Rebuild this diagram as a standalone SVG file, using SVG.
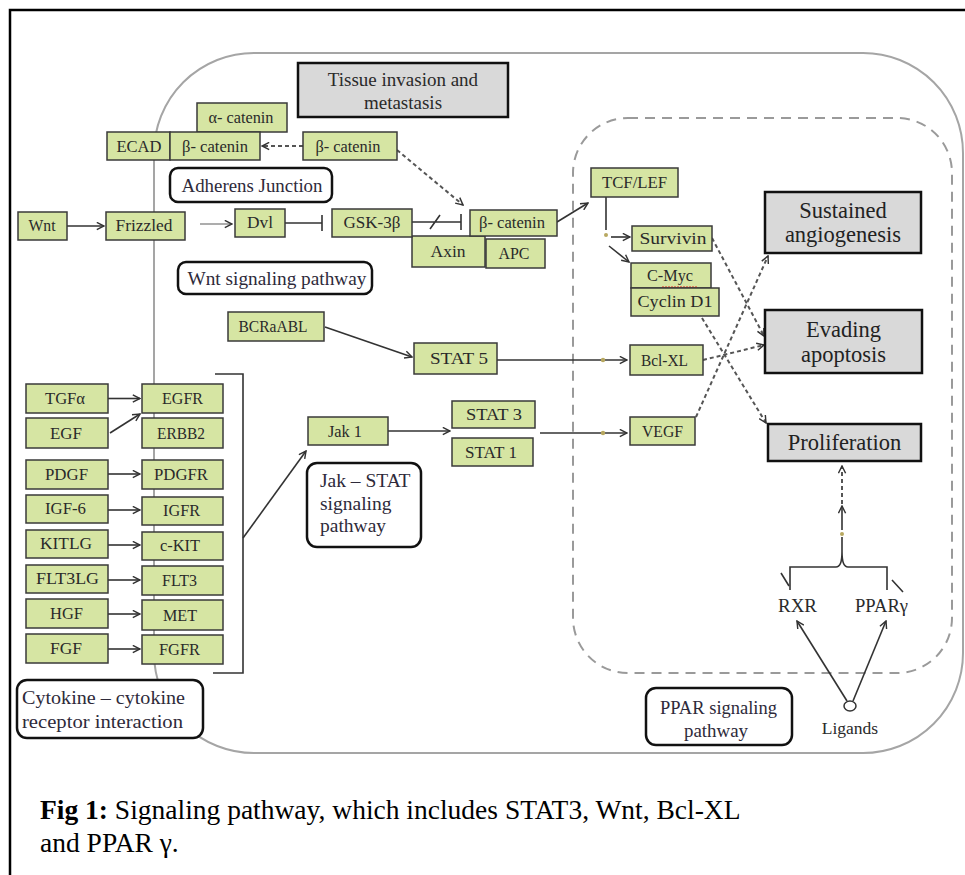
<svg xmlns="http://www.w3.org/2000/svg" width="965" height="875" viewBox="0 0 965 875">
<style>
.g{fill:#d6e5a3;stroke:#3a3a3a;stroke-width:1.5}
.o{fill:#d9d9d9;stroke:#111;stroke-width:2.5}
.l{fill:#fff;stroke:#111;stroke-width:2.5}
.t{font-family:"Liberation Serif",serif;font-size:16px;fill:#2a2a2a;text-anchor:middle}
.tb{font-family:"Liberation Serif",serif;font-size:19.5px;fill:#2e2a3a}
.to{font-family:"Liberation Serif",serif;font-size:22.5px;fill:#222;text-anchor:middle}
.s{stroke:#333;stroke-width:1.6;fill:none}
.d{stroke:#555;stroke-width:2;stroke-dasharray:4,3;fill:none}
.cap{font-family:"Liberation Serif",serif;font-size:27.5px;fill:#000}
</style>
<defs>
<marker id="a" viewBox="0 0 10 10" refX="9" refY="5" markerWidth="9" markerHeight="9" markerUnits="userSpaceOnUse" orient="auto">
<path d="M1,1 L9,5 L1,9" fill="none" stroke="#333" stroke-width="1.6"/>
</marker>
</defs>
<rect width="965" height="875" fill="#fff"/>
<path d="M10,875 L10,10 L965,10" fill="none" stroke="#000" stroke-width="2.5"/>
<rect x="154" y="53" width="809" height="700" rx="100" ry="100" fill="none" stroke="#a5a5a5" stroke-width="2"/>
<rect x="573" y="118" width="379" height="555" rx="55" ry="55" fill="none" stroke="#9a9a9a" stroke-width="2" stroke-dasharray="10,7"/>

<g id="connectors">
<path class="s" d="M67,226 L104,226" marker-end="url(#a)"/>
<path d="M200,224 L232,224" stroke="#777" stroke-width="1.2" fill="none" marker-end="url(#a)"/>
<path class="s" d="M285,223 L322,223 M322,215 L322,231"/>
<path class="s" d="M412,222 L461,222 M461,214 L461,230 M430,229 L440,215"/>
<path class="d" d="M303,146 L262,146" marker-end="url(#a)"/>
<path class="d" d="M397,150 L463,205" marker-end="url(#a)"/>
<path class="s" d="M557,222 L588,203" marker-end="url(#a)"/>
<path class="s" d="M606,197 L606,230"/>
<circle cx="606" cy="235" r="2" fill="#b8a860"/>
<path class="s" d="M611,237 L630,237" marker-end="url(#a)"/>
<path class="s" d="M609,246 L629,262" marker-end="url(#a)"/>
<path class="s" d="M325,327 L412,357" marker-end="url(#a)"/>
<path class="s" d="M497,360 L627,360" marker-end="url(#a)"/>
<circle cx="603" cy="360" r="2.2" fill="#b8a860"/>
<path class="s" d="M388,431 L450,431" marker-end="url(#a)"/>
<path class="s" d="M540,433 L627,433" marker-end="url(#a)"/>
<circle cx="603" cy="433" r="2.2" fill="#b8a860"/>
<path class="d" d="M712,238 L764,336" marker-end="url(#a)"/>
<path class="d" d="M702,318 L766,423" marker-end="url(#a)"/>
<path class="d" d="M703,360 L764,345" marker-end="url(#a)"/>
<path class="d" d="M696,417 L768,256" marker-end="url(#a)"/>
<path class="s" d="M108,398.5 L140,398.5" marker-end="url(#a)"/>
<path class="s" d="M110,433 L140,414" marker-end="url(#a)"/>
<path class="s" d="M108,474 L140,474" marker-end="url(#a)"/>
<path class="s" d="M108,510 L140,510" marker-end="url(#a)"/>
<path class="s" d="M108,545 L140,545" marker-end="url(#a)"/>
<path class="s" d="M108,580 L140,580" marker-end="url(#a)"/>
<path class="s" d="M108,614 L140,614" marker-end="url(#a)"/>
<path class="s" d="M108,649 L140,649" marker-end="url(#a)"/>
<path class="s" d="M215,374 L243,374 L243,673 L213,673"/>
<path class="s" d="M243,538 L306,451" marker-end="url(#a)"/>
<path class="s" d="M842,530 L842,506" marker-end="url(#a)"/>
<path class="d" d="M842,504 L842,466" marker-end="url(#a)"/>
<path class="s" d="M790,590 L790,567 L836,567 Q842,567 842,552 Q842,567 848,567 L887,567 L887,590"/>
<path class="s" d="M842,552 L842,537"/>
<circle cx="842" cy="534" r="2" fill="#b8a860"/>
<path class="s" d="M781,573 L789,586 M892,580 L903,592"/>
<path class="s" d="M847,701 L797,621" marker-end="url(#a)"/>
<path class="s" d="M853,701 L886,621" marker-end="url(#a)"/>
</g>

<g id="tissue"><rect class="o" x="298" y="63" width="210" height="54"/><text class="t" style="font-size:19px" x="403" y="86">Tissue invasion and</text><text class="t" style="font-size:19px" x="403" y="109">metastasis</text></g>
<g id="acatenin"><rect class="g" x="197" y="103" width="90" height="29"/><text class="t" x="241" y="123" textLength="65" lengthAdjust="spacingAndGlyphs">α- catenin</text></g>
<g id="ecad"><rect class="g" x="107" y="132" width="63" height="28"/><text class="t" x="139" y="152" textLength="45" lengthAdjust="spacingAndGlyphs">ECAD</text></g>
<g id="bcatenin1"><rect class="g" x="170" y="132" width="90" height="28"/><text class="t" x="215" y="152" textLength="66" lengthAdjust="spacingAndGlyphs">β- catenin</text></g>
<g id="bcatenin2"><rect class="g" x="303" y="132" width="94" height="28"/><text class="t" x="348" y="152" textLength="65" lengthAdjust="spacingAndGlyphs">β- catenin</text></g>
<g id="adherens"><rect class="l" x="170" y="168" width="162" height="34" rx="8"/><text class="tb" x="252" y="192" text-anchor="middle" textLength="141" lengthAdjust="spacingAndGlyphs">Adherens Junction</text></g>
<g id="wnt"><rect class="g" x="18" y="212" width="49" height="28"/><text class="t" x="42" y="231" textLength="27" lengthAdjust="spacingAndGlyphs">Wnt</text></g>
<g id="frizzled"><rect class="g" x="106" y="212" width="79" height="28"/><text class="t" x="144" y="231" textLength="57" lengthAdjust="spacingAndGlyphs">Frizzled</text></g>
<g id="dvl"><rect class="g" x="235" y="209" width="50" height="28"/><text class="t" x="260" y="228" textLength="26" lengthAdjust="spacingAndGlyphs">Dvl</text></g>
<g id="axin"><rect class="g" x="412" y="236" width="73" height="31"/><text class="t" x="448" y="257" textLength="35" lengthAdjust="spacingAndGlyphs">Axin</text></g>
<g id="gsk"><rect class="g" x="332" y="209" width="80" height="28"/><text class="t" x="372" y="228" textLength="57" lengthAdjust="spacingAndGlyphs">GSK-3β</text></g>
<g id="apc"><rect class="g" x="486" y="239" width="59" height="29"/><text class="t" x="514" y="259" textLength="31" lengthAdjust="spacingAndGlyphs">APC</text></g>
<g id="bcatenin3"><rect class="g" x="470" y="210" width="87" height="26"/><text class="t" x="512" y="228" textLength="66" lengthAdjust="spacingAndGlyphs">β- catenin</text></g>
<g id="wntlabel"><rect class="l" x="178" y="262" width="194" height="32" rx="8"/><text class="tb" x="277" y="285" text-anchor="middle" textLength="179" lengthAdjust="spacingAndGlyphs">Wnt signaling pathway</text></g>
<g id="tcflef"><rect class="g" x="591" y="168" width="87" height="29"/><text class="t" x="634.5" y="188" textLength="65" lengthAdjust="spacingAndGlyphs">TCF/LEF</text></g>
<g id="survivin"><rect class="g" x="632" y="226" width="80" height="25"/><text class="t" x="673" y="244" textLength="67" lengthAdjust="spacingAndGlyphs">Survivin</text></g>
<g id="cmyc"><rect class="g" x="631" y="263" width="80" height="25"/><text class="t" x="670" y="281" textLength="46" lengthAdjust="spacingAndGlyphs">C-Myc</text><path d="M662,287 L697,287" stroke="#e02020" stroke-width="1" stroke-dasharray="2,1"/></g>
<g id="cyclind1"><rect class="g" x="631" y="288" width="88" height="28"/><text class="t" x="675" y="307" textLength="75" lengthAdjust="spacingAndGlyphs">Cyclin D1</text></g>
<g id="bclxl"><rect class="g" x="630" y="345" width="73" height="30"/><text class="t" x="664.5" y="366" textLength="47" lengthAdjust="spacingAndGlyphs">Bcl-XL</text></g>
<g id="vegf"><rect class="g" x="630" y="417" width="65" height="28"/><text class="t" x="662.5" y="437" textLength="41" lengthAdjust="spacingAndGlyphs">VEGF</text></g>
<g id="bcrabl"><rect class="g" x="228" y="312" width="96" height="29"/><text class="t" x="273" y="332" textLength="69" lengthAdjust="spacingAndGlyphs">BCRaABL</text></g>
<g id="stat5"><rect class="g" x="414" y="343" width="83" height="31"/><text class="t" x="459" y="364" textLength="58" lengthAdjust="spacingAndGlyphs">STAT 5</text></g>
<g id="jak1"><rect class="g" x="308" y="417" width="80" height="28"/><text class="t" x="345" y="437" textLength="34" lengthAdjust="spacingAndGlyphs">Jak 1</text></g>
<g id="stat3"><rect class="g" x="452" y="401" width="83" height="27"/><text class="t" x="494" y="420" textLength="56" lengthAdjust="spacingAndGlyphs">STAT 3</text></g>
<g id="stat1"><rect class="g" x="452" y="438" width="81" height="28"/><text class="t" x="491" y="458" textLength="52" lengthAdjust="spacingAndGlyphs">STAT 1</text></g>
<g id="sustained"><rect class="o" x="765" y="192" width="156" height="61"/><text class="to" x="843" y="218">Sustained</text><text class="to" x="843" y="242">angiogenesis</text></g>
<g id="evading"><rect class="o" x="765" y="310" width="157" height="63"/><text class="to" x="843.5" y="337">Evading</text><text class="to" x="843.5" y="362">apoptosis</text></g>
<g id="proliferation"><rect class="o" x="768" y="424" width="153" height="37"/><text class="to" x="844.5" y="450">Proliferation</text></g>
<g id="jakstatlabel"><rect class="l" x="307" y="463" width="114" height="84" rx="10"/><text class="tb" x="320" y="487">Jak – STAT</text><text class="tb" x="320" y="510">signaling</text><text class="tb" x="320" y="532">pathway</text></g>
<g id="tgfa"><rect class="g" x="26" y="384" width="82" height="29"/><text class="t" x="65" y="404" textLength="40" lengthAdjust="spacingAndGlyphs">TGFα</text></g>
<g id="egfr"><rect class="g" x="142" y="384" width="81" height="29"/><text class="t" x="182.5" y="404" textLength="41" lengthAdjust="spacingAndGlyphs">EGFR</text></g>
<g id="egf"><rect class="g" x="26" y="418" width="82" height="30"/><text class="t" x="66" y="439" textLength="32" lengthAdjust="spacingAndGlyphs">EGF</text></g>
<g id="erbb2"><rect class="g" x="142" y="418" width="81" height="30"/><text class="t" x="181" y="439" textLength="48" lengthAdjust="spacingAndGlyphs">ERBB2</text></g>
<g id="pdgf"><rect class="g" x="26" y="460" width="82" height="29"/><text class="t" x="66.5" y="480" textLength="43" lengthAdjust="spacingAndGlyphs">PDGF</text></g>
<g id="pdgfr"><rect class="g" x="142" y="460" width="81" height="29"/><text class="t" x="181" y="480" textLength="54" lengthAdjust="spacingAndGlyphs">PDGFR</text></g>
<g id="igf6"><rect class="g" x="26" y="495" width="82" height="28"/><text class="t" x="65.5" y="514" textLength="41" lengthAdjust="spacingAndGlyphs">IGF-6</text></g>
<g id="igfr"><rect class="g" x="142" y="497" width="81" height="28"/><text class="t" x="181.5" y="516" textLength="37" lengthAdjust="spacingAndGlyphs">IGFR</text></g>
<g id="kitlg"><rect class="g" x="26" y="530" width="82" height="28"/><text class="t" x="66" y="549" textLength="52" lengthAdjust="spacingAndGlyphs">KITLG</text></g>
<g id="ckit"><rect class="g" x="142" y="532" width="81" height="28"/><text class="t" x="180" y="551" textLength="40" lengthAdjust="spacingAndGlyphs">c-KIT</text></g>
<g id="flt3lg"><rect class="g" x="26" y="565" width="82" height="28"/><text class="t" x="67.5" y="584" textLength="63" lengthAdjust="spacingAndGlyphs">FLT3LG</text></g>
<g id="flt3"><rect class="g" x="142" y="566" width="81" height="29"/><text class="t" x="179.5" y="586" textLength="35" lengthAdjust="spacingAndGlyphs">FLT3</text></g>
<g id="hgf"><rect class="g" x="26" y="599" width="82" height="29"/><text class="t" x="66.5" y="619" textLength="33" lengthAdjust="spacingAndGlyphs">HGF</text></g>
<g id="met"><rect class="g" x="142" y="600" width="81" height="30"/><text class="t" x="180" y="621" textLength="34" lengthAdjust="spacingAndGlyphs">MET</text></g>
<g id="fgf"><rect class="g" x="26" y="634" width="82" height="29"/><text class="t" x="66" y="654" textLength="32" lengthAdjust="spacingAndGlyphs">FGF</text></g>
<g id="fgfr"><rect class="g" x="142" y="635" width="81" height="29"/><text class="t" x="179.5" y="655" textLength="41" lengthAdjust="spacingAndGlyphs">FGFR</text></g>
<g id="cytokinelabel"><rect class="l" x="17" y="680" width="186" height="58" rx="10"/><text class="tb" x="103.5" y="704" text-anchor="middle" textLength="163" lengthAdjust="spacingAndGlyphs">Cytokine – cytokine</text><text class="tb" x="102.5" y="728" text-anchor="middle" textLength="161" lengthAdjust="spacingAndGlyphs">receptor interaction</text></g>
<g id="pparlabel"><rect class="l" x="646" y="688" width="146" height="57" rx="10"/><text class="tb" style="font-size:18px" x="718.5" y="714" text-anchor="middle" textLength="117" lengthAdjust="spacingAndGlyphs">PPAR signaling</text><text class="tb" style="font-size:18px" x="716" y="737" text-anchor="middle" textLength="64" lengthAdjust="spacingAndGlyphs">pathway</text></g>
<g id="rxr"><text class="t" style="font-size:18px" x="797.5" y="612" textLength="39" lengthAdjust="spacingAndGlyphs">RXR</text></g>
<g id="ppar"><text class="t" style="font-size:18px" x="881.5" y="612" textLength="53" lengthAdjust="spacingAndGlyphs">PPARγ</text></g>
<g id="ligands"><ellipse cx="850" cy="706" rx="6" ry="5" fill="#fff" stroke="#333" stroke-width="1.5"/><text class="t" style="font-size:17.5px" x="850" y="734">Ligands</text></g>
<g id="caption"><text class="cap" x="40" y="819"><tspan font-weight="bold">Fig 1:</tspan> Signaling pathway, which includes STAT3, Wnt, Bcl-XL</text><text class="cap" x="40" y="852">and PPAR γ.</text></g>
</svg>
